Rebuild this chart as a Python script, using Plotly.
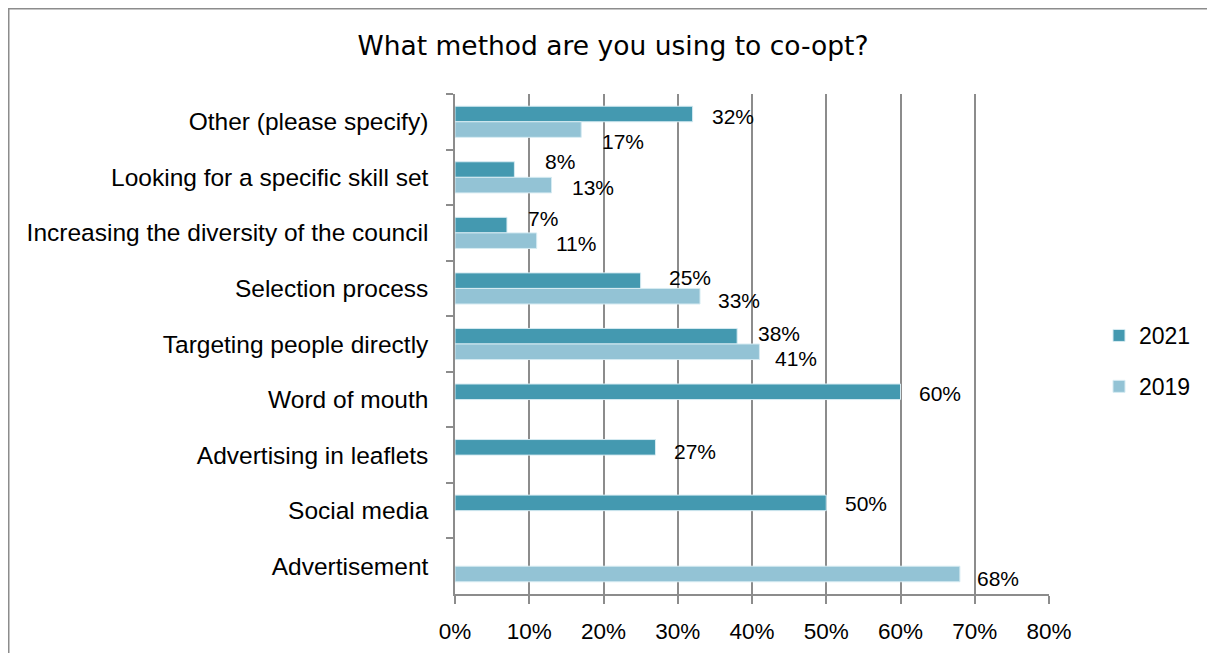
import plotly.graph_objects as go

categories = [
    "Other (please specify)",
    "Looking for a specific skill set",
    "Increasing the diversity of the council",
    "Selection process",
    "Targeting people directly",
    "Word of mouth",
    "Advertising in leaflets",
    "Social media",
    "Advertisement",
]
values_2021 = [32, 8, 7, 25, 38, 60, 27, 50, None]
values_2019 = [17, 13, 11, 33, 41, None, None, None, 68]
x_ticks = [0, 10, 20, 30, 40, 50, 60, 70, 80]
x_tick_labels = ["0%", "10%", "20%", "30%", "40%", "50%", "60%", "70%", "80%"]

# label nudges (pixels, down positive) to mimic the reference's label placement
nudge_2021 = [2, -8, -7, -3, -3, 2, 4, 1, 0]
nudge_2019 = [12, 2, 3, 4, 7, 0, 0, 0, 4]
xnudge_2021 = [17, 29, 19, 26, 19, 16, 17, 17, 0]
xnudge_2019 = [19, 18, 17, 16, 14, 0, 0, 0, 15]

C2021 = "#4499B0"
C2019 = "#93C3D5"
GRID = "#8c8c8c"
FONT = "Liberation Sans"

# page body has an 8px margin; the figure is laid out relative to that origin
W, H = 1207, 645
PL, PR, PT, PB = 447, 1041, 86, 586   # plot area in figure pixels
PW, PHt = PR - PL, PB - PT

def px(xp):
    return (xp - PL) / PW

def py(yp):
    return (PB - yp) / PHt

fig = go.Figure()
fig.add_trace(go.Bar(
    y=categories, x=values_2021, name="2021", orientation="h",
    marker=dict(color=C2021, line=dict(color="#d6ebf2", width=1)),
    legendgroup="a",
))
fig.add_trace(go.Bar(
    y=categories, x=values_2019, name="2019", orientation="h",
    marker=dict(color=C2019, line=dict(color="#d6ebf2", width=1)),
    legendgroup="b",
))

bargap = 0.44
half = (1 - bargap) / 4.0
annotations = []
for i, v in enumerate(values_2021):
    if v is not None:
        annotations.append(dict(
            x=v, y=i - half, xref="x", yref="y", text=f"{v}%", showarrow=False,
            xanchor="left", yanchor="middle", xshift=xnudge_2021[i], yshift=-nudge_2021[i],
            font=dict(family=FONT, size=21, color="#000000"),
        ))
for i, v in enumerate(values_2019):
    if v is not None:
        annotations.append(dict(
            x=v, y=i + half, xref="x", yref="y", text=f"{v}%", showarrow=False,
            xanchor="left", yanchor="middle", xshift=xnudge_2019[i], yshift=-nudge_2019[i],
            font=dict(family=FONT, size=21, color="#000000"),
        ))

fig.update_layout(
    width=W, height=H,
    margin=dict(l=PL, r=W - PR, t=PT, b=H - PB, autoexpand=False),
    paper_bgcolor="white", plot_bgcolor="white",
    barmode="group", bargap=bargap, bargroupgap=0,
    title=dict(text="What method are you using to co-opt?", x=(613 - 8) / W, xref="container",
               y=1 - (46 - 8) / H, yref="container", xanchor="center", yanchor="middle",
               font=dict(family="DejaVu Sans", size=26.5, color="#000000")),
    font=dict(family=FONT, size=20, color="#000000"),
    showlegend=True,
    legend=dict(x=px(1091), xanchor="left", y=py(361 - 8), yanchor="middle",
                xref="paper", yref="paper", traceorder="grouped", tracegroupgap=18,
                font=dict(family=FONT, size=23, color="#000000"), bgcolor="rgba(0,0,0,0)"),
    annotations=annotations,
    shapes=[
        dict(type="line", xref="paper", yref="paper", x0=px(0), x1=px(W),
             y0=py(0.75), y1=py(0.75), line=dict(color=GRID, width=1.5)),
        dict(type="line", xref="paper", yref="paper", x0=px(0.75), x1=px(0.75),
             y0=py(0.75), y1=py(H + 5), line=dict(color=GRID, width=1.5)),
    ],
)
fig.update_xaxes(
    range=[0, 80], tickvals=x_ticks, ticktext=x_tick_labels,
    showgrid=True, gridcolor=GRID, gridwidth=1.5,
    showline=True, linecolor=GRID, linewidth=1.5,
    ticks="outside", ticklen=8, tickcolor=GRID, tickwidth=1.5,
    ticklabelstandoff=8, zeroline=False,
    tickfont=dict(family=FONT, size=22.5, color="#000000"),
)
fig.update_yaxes(
    autorange="reversed", type="category",
    showline=True, linecolor=GRID, linewidth=1.5,
    ticks="outside", ticklen=7, tickcolor=GRID, tickwidth=1.5, tickson="boundaries",
    ticklabelstandoff=20, showgrid=False,
    tickfont=dict(family=FONT, size=24.5, color="#000000"),
)

fig.write_html("out.html")
